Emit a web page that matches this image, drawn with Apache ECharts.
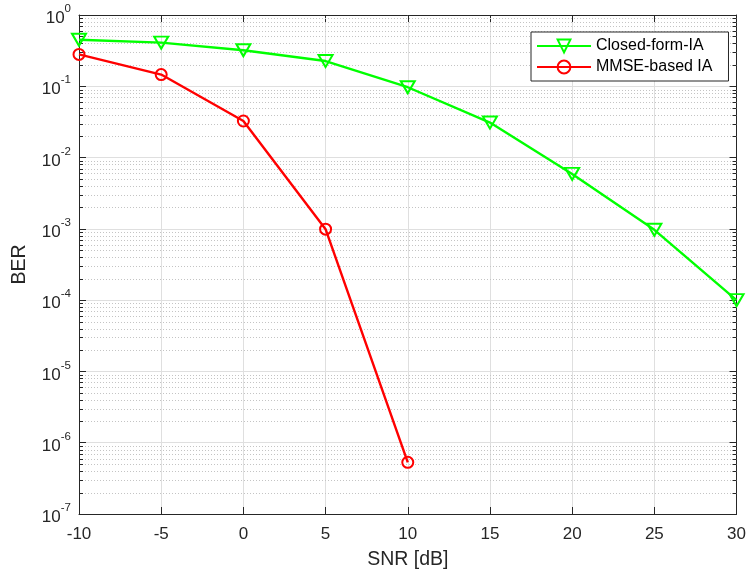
<!DOCTYPE html>
<html><head><meta charset="utf-8">
<script src="https://cdn.jsdelivr.net/npm/echarts@6/dist/echarts.min.js"></script>
<style>html,body{margin:0;padding:0;background:#fff}#c{width:749px;height:575px}</style>
</head><body><div id="c"></div>
<script>
// ---- data ----
const snr = [-10, -5, 0, 5, 10, 15, 20, 25, 30];
const closedFormIA = [0.45, 0.41, 0.32, 0.226, 0.097, 0.031, 0.0059, 0.00097, 0.0001];
const mmseSnr = [-10, -5, 0, 5, 10];
const mmseBasedIA = [0.28, 0.146, 0.0326, 0.00099, 5.3e-7];
const xTicks = [-10, -5, 0, 5, 10, 15, 20, 25, 30];
const yDecades = [-7, -6, -5, -4, -3, -2, -1, 0];
const minorMantissas = [2, 3, 4, 5, 6, 7, 8, 9];
const seriesNames = ['Closed-form-IA', 'MMSE-based IA'];

const FONT = '"Liberation Sans", Arial, Helvetica, sans-serif';
const AX = '#262626';
const minorVals = [];
yDecades.slice(0, -1).forEach(e => minorMantissas.forEach(m => minorVals.push([xTicks[0], m * Math.pow(10, e)])));

const chart = echarts.init(document.getElementById('c'), null, {renderer: 'canvas'});
const xMin = xTicks[0], xMax = xTicks[xTicks.length - 1];
const yMin = Math.pow(10, yDecades[0]), yMax = Math.pow(10, yDecades[yDecades.length - 1]);

function yLabel(v) {
  const e = Math.round(Math.log10(v));
  return '{b|10}{s|' + e + '}';
}
const baseAxis = {
  axisLine: {show: true, onZero: false, lineStyle: {color: AX, width: 1}},
  axisTick: {show: true, inside: true, length: 7, lineStyle: {color: AX}},
};

chart.setOption({
  animation: false,
  backgroundColor: '#fff',
  textStyle: {fontFamily: FONT},
  grid: {left: 79, right: 10, top: 15, bottom: 61, containLabel: false},
  legend: {
    data: seriesNames,
    orient: 'vertical',
    left: 531, top: 32,
    padding: [6, 16, 6, 5],
    itemGap: 5,
    itemWidth: 54, itemHeight: 16,
    backgroundColor: '#fff',
    borderColor: AX, borderWidth: 1, borderRadius: 0,
    textStyle: {fontFamily: FONT, fontSize: 16, color: '#000'}
  },
  xAxis: [
    Object.assign({}, baseAxis, {
      type: 'value', min: xMin, max: xMax, interval: 5,
      name: 'SNR [dB]', nameLocation: 'middle', nameGap: 36,
      nameTextStyle: {fontFamily: FONT, fontSize: 19.5, color: AX},
      axisLabel: {fontFamily: FONT, fontSize: 17, color: AX, margin: 12},
      splitLine: {show: true, lineStyle: {color: '#dfdfdf', width: 1}}
    }),
    Object.assign({}, baseAxis, {
      type: 'value', min: xMin, max: xMax, interval: 5, position: 'top',
      axisLabel: {show: false}, splitLine: {show: false}
    })
  ],
  yAxis: [
    Object.assign({}, baseAxis, {
      type: 'log', logBase: 10, min: yMin, max: yMax, interval: 1,
      name: 'BER', nameLocation: 'middle', nameGap: 49,
      nameTextStyle: {fontFamily: FONT, fontSize: 19.5, color: AX},
      axisLabel: {
        margin: 8, formatter: yLabel,
        rich: {
          b: {fontFamily: FONT, fontSize: 17, color: AX, padding: [7, 0, 0, 0]},
          s: {fontFamily: FONT, fontSize: 11.5, color: AX, verticalAlign: 'top', padding: [0, 0, 5, 0]}
        }
      },
      splitLine: {show: true, lineStyle: {color: '#dfdfdf', width: 1}}
    }),
    Object.assign({}, baseAxis, {
      type: 'log', logBase: 10, min: yMin, max: yMax, interval: 1, position: 'right',
      axisLabel: {show: false}, splitLine: {show: false}
    })
  ],
  series: [
    {
      type: 'custom', name: 'minor', silent: true, z: 1,
      coordinateSystem: 'cartesian2d',
      encode: {x: 0, y: 1},
      data: minorVals,
      renderItem: function (params, api) {
        const y = api.value(1);
        const p1 = api.coord([xMin, y]);
        const p2 = api.coord([xMax, y]);
        const yy = Math.round(p1[1]) + 0.5;
        return {type: 'group', children: [
          {type: 'line', shape: {x1: p1[0], y1: yy, x2: p2[0], y2: yy},
            style: {stroke: '#c4c4c4', lineWidth: 1, lineDash: [1, 2]}},
          {type: 'line', shape: {x1: p1[0], y1: yy, x2: p1[0] + 4, y2: yy},
            style: {stroke: AX, lineWidth: 1}},
          {type: 'line', shape: {x1: p2[0] - 4, y1: yy, x2: p2[0], y2: yy},
            style: {stroke: AX, lineWidth: 1}}
        ]};
      }
    },
    {
      name: seriesNames[0], type: 'line', z: 4,
      data: snr.map((x, i) => [x, closedFormIA[i]]),
      symbol: 'triangle', symbolRotate: 180, symbolSize: [14, 12],
      lineStyle: {color: '#00ff00', width: 2.4},
      itemStyle: {color: 'rgba(0,0,0,0)', borderColor: '#00ff00', borderWidth: 2},
      clip: false
    },
    {
      name: seriesNames[1], type: 'line', z: 4,
      data: mmseSnr.map((x, i) => [x, mmseBasedIA[i]]),
      symbol: 'circle', symbolSize: 11,
      lineStyle: {color: '#ff0000', width: 2.4},
      itemStyle: {color: 'rgba(0,0,0,0)', borderColor: '#ff0000', borderWidth: 2},
      clip: false
    }
  ]
});
</script>
</body></html>
